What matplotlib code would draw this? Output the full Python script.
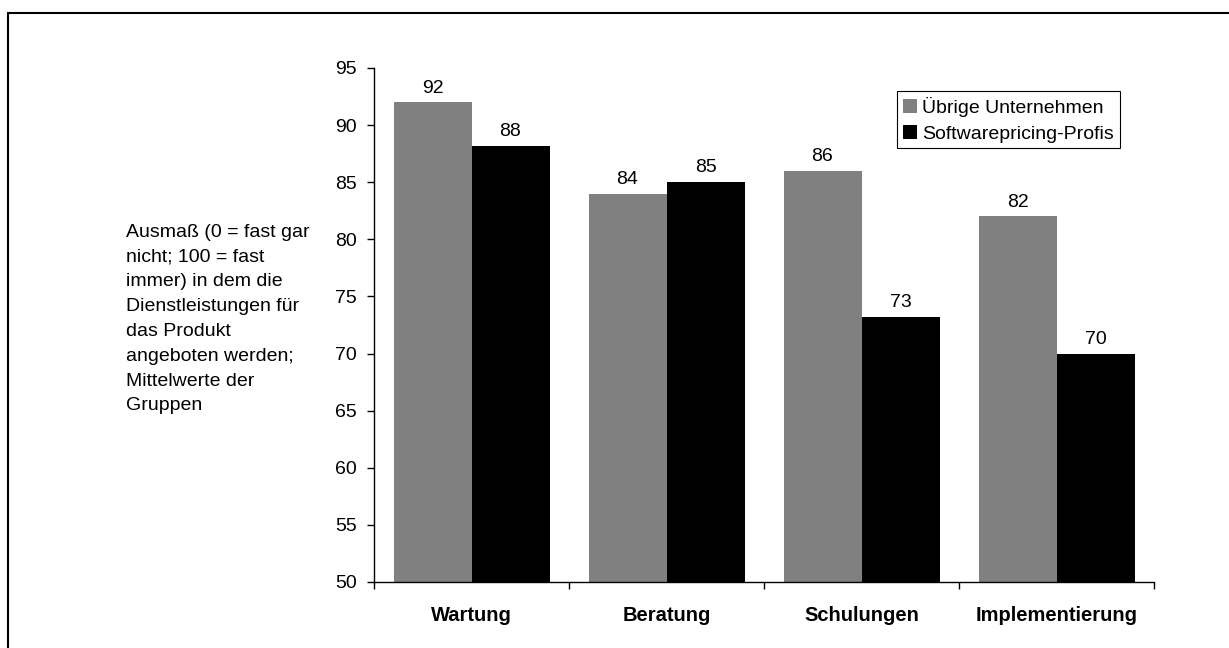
import matplotlib
matplotlib.use("Agg")
import matplotlib.pyplot as plt
from matplotlib.patches import Rectangle, Patch
import numpy as np

plt.rcParams['font.family'] = ['Liberation Sans', 'DejaVu Sans']

categories = ["Wartung", "Beratung", "Schulungen", "Implementierung"]
series_names = ["Übrige Unternehmen", "Softwarepricing-Profis"]
uebrige = [92.0, 84.0, 86.0, 82.0]
profis = [88.2, 85.0, 73.2, 70.0]
y_ticks = [50, 55, 60, 65, 70, 75, 80, 85, 90, 95]
y_label = ("Ausmaß (0 = fast gar\nnicht; 100 = fast\nimmer) in dem die\n"
           "Dienstleistungen für\ndas Produkt\nangeboten werden;\n"
           "Mittelwerte der\nGruppen")

FS = 14
W, H, DPI = 1229, 648, 100
fig = plt.figure(figsize=(W / DPI, H / DPI), dpi=DPI)
ax = fig.add_axes([374 / W, 1 - 582 / H, 780 / W, 514 / H])

x = np.arange(len(categories))
bw = 0.4
ax.bar(x - bw / 2, uebrige, bw, color="#808080", linewidth=0, label=series_names[0])
ax.bar(x + bw / 2, profis, bw, color="#000000", linewidth=0, label=series_names[1])

for xs, vals in ((x - bw / 2, uebrige), (x + bw / 2, profis)):
    for xi, v in zip(xs, vals):
        ax.annotate(f"{v:.0f}", (xi, v), xytext=(0, 7), textcoords="offset points",
                    ha="center", va="baseline", fontsize=FS)

ax.set_ylim(50, 95)
ax.set_yticks(y_ticks)
ax.set_xlim(-0.5, len(categories) - 0.5)
ax.set_xticks(np.arange(len(categories) + 1) - 0.5)
ax.set_xticklabels([])
ax.set_xticks(x, minor=True)
ax.set_xticklabels(categories, minor=True, fontweight="bold", fontsize=14.5)
ax.tick_params(axis="x", which="minor", length=0, pad=17)
ax.tick_params(axis="x", which="major", length=5, width=1, direction="out")
ax.tick_params(axis="y", length=5, width=1, direction="out", labelsize=FS, pad=7.5)

for side in ("top", "right"):
    ax.spines[side].set_visible(False)
for side in ("left", "bottom"):
    ax.spines[side].set_linewidth(1)

handles = [Patch(facecolor="#808080", edgecolor="none"),
           Patch(facecolor="#000000", edgecolor="none")]
leg = ax.legend(handles, series_names, loc="upper right",
                bbox_to_anchor=(1120 / W, 1 - 91 / H), bbox_transform=fig.transFigure,
                fontsize=FS, frameon=True, fancybox=False, framealpha=1,
                borderaxespad=0, borderpad=0.3, handlelength=0.7, handleheight=0.7,
                handletextpad=0.3, labelspacing=0.42)
leg.get_frame().set_edgecolor("black")
leg.get_frame().set_linewidth(0.8)

fig.text(126 / W, 1 - 319 / H, y_label, ha="left", va="center",
         multialignment="left", fontsize=FS, linespacing=1.6)

# outer frame around the whole chart
fig.patches.append(Rectangle((7.5 / W, -0.1), 1.2, 1.1 - 13.5 / H,
                             transform=fig.transFigure, fill=False,
                             edgecolor="black", linewidth=1.5))

fig.savefig("out.png", dpi=DPI)
